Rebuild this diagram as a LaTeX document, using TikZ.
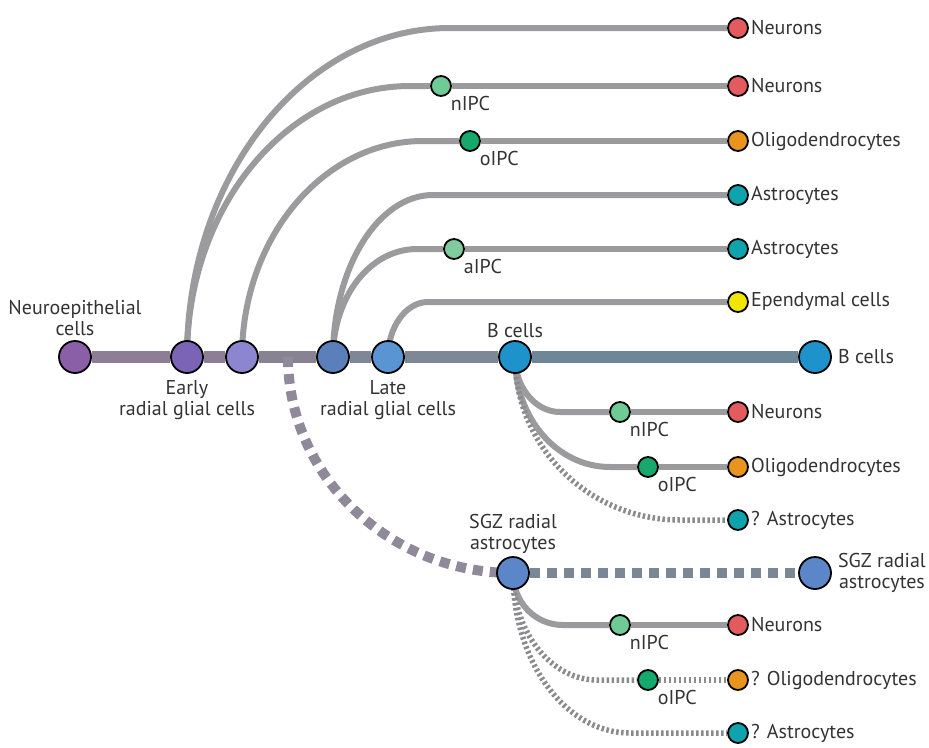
\documentclass[tikz,border=0pt]{standalone}
\usepackage{fontspec}
\setmainfont{PT Sans}
\usetikzlibrary{positioning}
\pgfdeclarelayer{bg}
\pgfsetlayers{bg,main}

\definecolor{txt}{HTML}{333333}
\definecolor{branch}{HTML}{9B9B9D}
\definecolor{stemA}{HTML}{8D7D95}
\definecolor{stemB}{HTML}{878392}
\definecolor{stemC}{HTML}{7E8795}
\definecolor{stemD}{HTML}{6E8798}
\definecolor{dashA}{HTML}{8F899A}
\definecolor{dashB}{HTML}{7A8795}
\definecolor{neCol}{HTML}{8B5FA8}
\definecolor{ergA}{HTML}{7B63B5}
\definecolor{ergB}{HTML}{8C86D0}
\definecolor{lrgA}{HTML}{5A7FBA}
\definecolor{lrgB}{HTML}{5A95D3}
\definecolor{bcCol}{HTML}{1E92CB}
\definecolor{sgzCol}{HTML}{5B86C8}
\definecolor{neuCol}{HTML}{E35B5E}
\definecolor{oliCol}{HTML}{E8941E}
\definecolor{astCol}{HTML}{0FA3AE}
\definecolor{epeCol}{HTML}{F2E600}
\definecolor{nipcCol}{HTML}{6ECB96}
\definecolor{oipcCol}{HTML}{16A86C}
\definecolor{aipcCol}{HTML}{7FCB9E}

\tikzset{
  cell/.style={circle, draw=black, line width=1.8pt, inner sep=0pt, minimum size=#1},
  big/.style={cell=32pt},
  small/.style={cell=20pt},
  lbl/.style={font=\fontsize{20}{21}\selectfont, text=txt, align=center, inner sep=2pt},
  stem/.style={line width=12pt},
  branchline/.style={draw=branch, line width=6pt},
  dotline/.style={draw=branch!90!black, line width=5.5pt, dash pattern=on 2.5pt off 2.5pt},
  bigdash/.style={line width=10pt, dash pattern=on 10pt off 7pt},
}

\begin{document}
\begin{tikzpicture}[x=1pt, y=-1pt]
  \useasboundingbox (0,0) rectangle (929,747);
  % main stem
  \node[big, fill=neCol, label={[lbl, label distance=2pt]above:Neuroepithelial\\cells}] (neuro) at (75,357) {};
  \node[big, fill=ergA, label={[lbl, label distance=4pt]below:Early\\radial glial cells}] (erg1) at (187,357) {};
  \node[big, fill=ergB] (erg2) at (242,357) {};
  \node[big, fill=lrgA] (lrg1) at (333,357) {};
  \node[big, fill=lrgB, label={[lbl, label distance=4pt]below:Late\\radial glial cells}] (lrg2) at (388,357) {};
  \node[big, fill=bcCol, label={[lbl, label distance=0pt]above:B cells}] (bc) at (515,357) {};
  \node[big, fill=bcCol, label={[lbl, label distance=4pt]right:B cells}] (bcend) at (815,357) {};
  \node[big, fill=sgzCol, label={[lbl, label distance=0pt]above:SGZ radial\\astrocytes}] (sgz) at (513,573) {};
  \node[big, fill=sgzCol, label={[lbl, label distance=4pt]right:SGZ radial\\astrocytes}] (sgzend) at (815,573) {};
  \coordinate (fork) at (288,357);

  % upper branches
  \node[small, fill=neuCol, label={[lbl]right:Neurons}] (neuA) at (738,28) {};
  \node[small, fill=nipcCol, label={[lbl]below right:nIPC}] (nipcA) at (441,86) {};
  \node[small, fill=neuCol, label={[lbl]right:Neurons}] (neuB) at (738,86) {};
  \node[small, fill=oipcCol, label={[lbl]below right:oIPC}] (oipcA) at (470,141) {};
  \node[small, fill=oliCol, label={[lbl]right:Oligodendrocytes}] (oliA) at (738,141) {};
  \node[small, fill=astCol, label={[lbl]right:Astrocytes}] (astA) at (738,195) {};
  \node[small, fill=aipcCol, label={[lbl]below right:aIPC}] (aipc) at (454,249) {};
  \node[small, fill=astCol, label={[lbl]right:Astrocytes}] (astB) at (738,249) {};
  \node[small, fill=epeCol, label={[lbl]right:Ependymal cells}] (epe) at (738,302) {};

  % B cell progeny
  \node[small, fill=nipcCol, label={[lbl]below right:nIPC}] (nipcB) at (620,412) {};
  \node[small, fill=neuCol, label={[lbl]right:Neurons}] (neuC) at (738,412) {};
  \node[small, fill=oipcCol, label={[lbl]below right:oIPC}] (oipcB) at (648,467) {};
  \node[small, fill=oliCol, label={[lbl]right:Oligodendrocytes}] (oliB) at (738,467) {};
  \node[small, fill=astCol, label={[lbl]right:? Astrocytes}] (astC) at (738,520) {};

  % SGZ progeny
  \node[small, fill=nipcCol, label={[lbl]below right:nIPC}] (nipcC) at (620,625) {};
  \node[small, fill=neuCol, label={[lbl]right:Neurons}] (neuD) at (738,625) {};
  \node[small, fill=oipcCol, label={[lbl]below right:oIPC}] (oipcC) at (648,680) {};
  \node[small, fill=oliCol, label={[lbl]right:? Oligodendrocytes}] (oliC) at (738,680) {};
  \node[small, fill=astCol, label={[lbl]right:? Astrocytes}] (astD) at (738,733) {};

  \begin{pgfonlayer}{bg}
    \draw[stem, stemA] (neuro) -- (erg1);
    \draw[stem, stemA] (erg1) -- (erg2);
    \draw[stem, stemB] (erg2) -- (lrg1);
    \draw[stem, stemC] (lrg1) -- (lrg2);
    \draw[stem, stemC] (lrg2) -- (bc);
    \draw[stem, stemD] (bc) -- (bcend);
    \draw[bigdash, dashA] (fork) .. controls (288,476) and (389,573) .. (sgz.center);
    \draw[bigdash, dashB] (sgz) -- (sgzend);

    \draw[branchline] (erg1.center) .. controls (187,175) and (305,28) .. (450,28) -- (neuA);
    \draw[branchline] (erg1.center) .. controls (187,207) and (287,86) .. (410,86) -- (nipcA);
    \draw[branchline] (nipcA) -- (neuB);
    \draw[branchline] (erg2.center) .. controls (242,238) and (323,141) .. (423,141) -- (oipcA);
    \draw[branchline] (oipcA) -- (oliA);
    \draw[branchline] (lrg1.center) .. controls (333,268) and (378,195) .. (433,195) -- (astA);
    \draw[branchline] (lrg1.center) .. controls (333,297) and (370,249) .. (417,249) -- (aipc);
    \draw[branchline] (aipc) -- (astB);
    \draw[branchline] (lrg2.center) .. controls (388,327) and (406,302) .. (428,302) -- (epe);

    \draw[branchline] (bc.center) .. controls (515,387) and (535,412) .. (560,412) -- (nipcB);
    \draw[branchline] (nipcB) -- (neuC);
    \draw[branchline] (bc.center) .. controls (515,418) and (557,467) .. (610,467) -- (oipcB);
    \draw[branchline] (oipcB) -- (oliB);
    \draw[dotline] (bc.center) .. controls (515,447) and (589,520) .. (680,520) -- (astC);

    \draw[branchline] (sgz.center) .. controls (513,602) and (535,625) .. (563,625) -- (nipcC);
    \draw[branchline] (nipcC) -- (neuD);
    \draw[dotline] (sgz.center) .. controls (513,632) and (551,680) .. (597,680) -- (oipcC);
    \draw[dotline] (oipcC) -- (oliC);
    \draw[dotline] (sgz.center) .. controls (513,661) and (565,733) .. (630,733) -- (astD);
  \end{pgfonlayer}
\end{tikzpicture}
\end{document}
